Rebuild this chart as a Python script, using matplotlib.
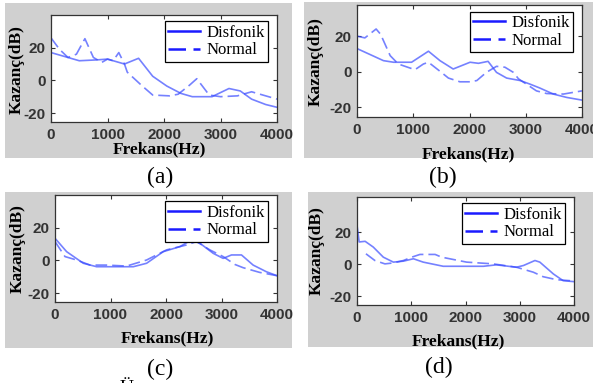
import matplotlib
matplotlib.use('Agg')
import matplotlib.pyplot as plt
from matplotlib.patches import Rectangle

plt.rcParams['axes.unicode_minus'] = False

W, H = 593, 383

# panel (a)
a_dis_f = [0, 200, 500, 800, 1000, 1300, 1550, 1800, 2050, 2300, 2500, 2850, 3150, 3350, 3550, 3800, 4000]
a_dis_g = [17, 15, 12, 12.5, 13, 10, 13.5, 2.5, -3.5, -8, -10, -10, -5, -6.5, -11.5, -14.8, -16.5]
a_nor_f = [0, 150, 300, 450, 600, 750, 900, 1000, 1100, 1200, 1300, 1350, 1600, 1800, 2100, 2250, 2450,
           2580, 2800, 3000, 3300, 3550, 3750, 4000]
a_nor_g = [26, 19, 14, 16, 25.5, 14, 11, 13, 12, 17, 10, 5, -3, -9, -9.5, -8.5, -3,
           1, -9, -10, -9.5, -7, -9, -11.5]

# panel (b)
b_dis_f = [0, 470, 650, 970, 1270, 1475, 1710, 2010, 2160, 2330, 2480, 2660, 2900, 3075, 3250, 3490, 3730, 4000]
b_dis_g = [13, 6.2, 5.3, 5.3, 11.5, 6.2, 1.5, 5.3, 4.7, 5.8, -0.4, -3.6, -5, -7, -9.2, -12.6, -14.5, -16]
b_nor_f = [0, 140, 340, 420, 590, 735, 1030, 1180, 1270, 1500, 1625, 1830, 2010, 2130, 2300, 2480,
           2630, 2780, 2870, 3190, 3370, 3670, 4000]
b_nor_g = [20, 19, 24, 21, 9, 4.3, 1.1, 4.3, 5.3, -0.4, -3.6, -5.7, -5.7, -5, -0.4, 3,
           2.5, -0.4, -4, -10.8, -12.3, -12.6, -10.8]

# panel (c)
c_dis_f = [0, 210, 510, 750, 1410, 1650, 1950, 2250, 2460, 2610, 2850, 3030, 3180, 3360, 3570, 3810, 4000]
c_dis_g = [13.5, 5.3, -1.8, -3.9, -3.9, -1.8, 5.3, 8.4, 12.5, 10.5, 4.3, 1.2, 3.3, 3.3, -2.9, -7, -9.4]
c_nor_f = [0, 180, 390, 630, 930, 1290, 1650, 2010, 2370, 2550, 2790, 3030, 3240, 3390, 3690, 4000]
c_nor_g = [11.5, 2.3, 0.2, -2.9, -2.9, -3.5, 0.2, 6.4, 9.4, 11.5, 6.4, 2.3, -2.5, -4.5, -7.4, -9.4]

# panel (d)
d_dis_f = [0, 40, 150, 300, 485, 670, 855, 1040, 1220, 1590, 2330, 2570, 2940, 3070, 3280, 3370, 3620, 3800, 4000]
d_dis_g = [24.4, 13.9, 14.3, 10.7, 4.4, 1.3, 1.9, 3.4, 1.3, -1.3, -1.3, -0.4, -1.9, -0.8, 2.3, 1.3, -6.1, -10.3, -10.9]
d_nor_f = [165, 330, 515, 670, 855, 1010, 1160, 1440, 1560, 2020, 2510, 2940, 3250, 3430, 3680, 3930]
d_nor_g = [6.5, 2.3, 0.2, 0.8, 2.3, 4.4, 6.1, 6.1, 4.4, 1.3, 0.2, -1.9, -5, -7.8, -9.7, -10.3]

panels = [
    ('(a)', a_dis_f, a_dis_g, a_nor_f, a_nor_g),
    ('(b)', b_dis_f, b_dis_g, b_nor_f, b_nor_g),
    ('(c)', c_dis_f, c_dis_g, c_nor_f, c_nor_g),
    ('(d)', d_dis_f, d_dis_g, d_nor_f, d_nor_g),
]

# pixel boxes: grey panel, axes, label positions, ylim
gray_boxes = [(5, 3, 292, 158), (304, 2, 593, 158), (5, 192, 292, 348), (308, 192, 593, 347)]
ax_boxes = [(51, 15, 277, 122), (357, 5, 582, 117), (55, 195, 277, 302), (357, 197, 574, 305)]
label_pos = [(160, 177), (443, 177), (160, 369), (439, 367)]
xlab_pos = [(159, 148), (468, 153), (167, 337), (458, 340)]
ylab_pos = [(17, 70), (316, 62), (18, 249), (317, 251)]
ylims = [(-25.5, 40), (-25.5, 37.5), (-25.5, 40), (-25.5, 42)]

line_col = '#3a4cff'
serif = 'Liberation Serif'
sans = 'Liberation Sans'

fig = plt.figure(figsize=(W / 100, H / 100), dpi=100)
fig.patch.set_facecolor('white')

for i, (lab, df, dg, nf, ng) in enumerate(panels):
    gx0, gy0, gx1, gy1 = gray_boxes[i]
    fig.patches.append(Rectangle((gx0 / W, 1 - gy1 / H), (gx1 - gx0) / W, (gy1 - gy0) / H,
                                 transform=fig.transFigure, facecolor='#d0d0d0', edgecolor='none', zorder=-10))
    x0, y0, x1, y1 = ax_boxes[i]
    ax = fig.add_axes([x0 / W, 1 - y1 / H, (x1 - x0) / W, (y1 - y0) / H])
    ax.plot(df, dg, color=line_col, lw=1.2, alpha=0.7, label='Disfonik')
    ax.plot(nf, ng, color=line_col, lw=1.2, alpha=0.7, dashes=(7, 3), label='Normal')
    ax.set_xlim(0, 4000)
    ax.set_ylim(*ylims[i])
    ax.set_xticks([0, 1000, 2000, 3000, 4000])
    ax.set_yticks([-20, 0, 20])
    ax.tick_params(direction='in', length=3, width=0.8, top=True, right=True, colors='#333333',
                   labelsize=11, pad=4)
    for t in ax.get_xticklabels() + ax.get_yticklabels():
        t.set_fontfamily(sans)
        t.set_fontweight('bold')
        t.set_color('#333333')
    for s in ax.spines.values():
        s.set_color('#333333')
        s.set_linewidth(0.9)
    ax.set_xlabel('Frekans(Hz)', fontfamily=serif, fontweight='bold', fontsize=12.5)
    ax.set_ylabel('Kazanç(dB)', fontfamily=serif, fontweight='bold', fontsize=12.5)
    xx, xy = xlab_pos[i]
    ax.xaxis.set_label_coords(xx / W, 1 - (xy + 1) / H, transform=fig.transFigure)
    ax.xaxis.label.set_va('center')
    yx, yy = ylab_pos[i]
    ax.yaxis.set_label_coords(yx / W, 1 - yy / H, transform=fig.transFigure)
    ax.yaxis.label.set_va('center')
    leg = ax.legend(loc='upper right', bbox_to_anchor=(0.96, 0.94), fancybox=False, framealpha=1,
                    edgecolor='black', prop={'family': serif, 'size': 12}, handlelength=1.9,
                    borderpad=0.2, labelspacing=0.1, handletextpad=0.4, borderaxespad=0)
    leg.get_frame().set_linewidth(0.9)
    for h in leg.get_lines():
        h.set_color('#1a1aff')
        h.set_alpha(1)
        h.set_linewidth(1.8)
    lx, ly = label_pos[i]
    fig.text(lx / W, 1 - ly / H, lab, ha='center', va='center', fontfamily=serif, fontsize=17)

# cut-off caption letter at the bottom edge
fig.text(127 / W, 1 - 380 / H, 'Ü', ha='center', va='top', fontfamily=serif, fontsize=14)

fig.savefig('out.png', dpi=100)
